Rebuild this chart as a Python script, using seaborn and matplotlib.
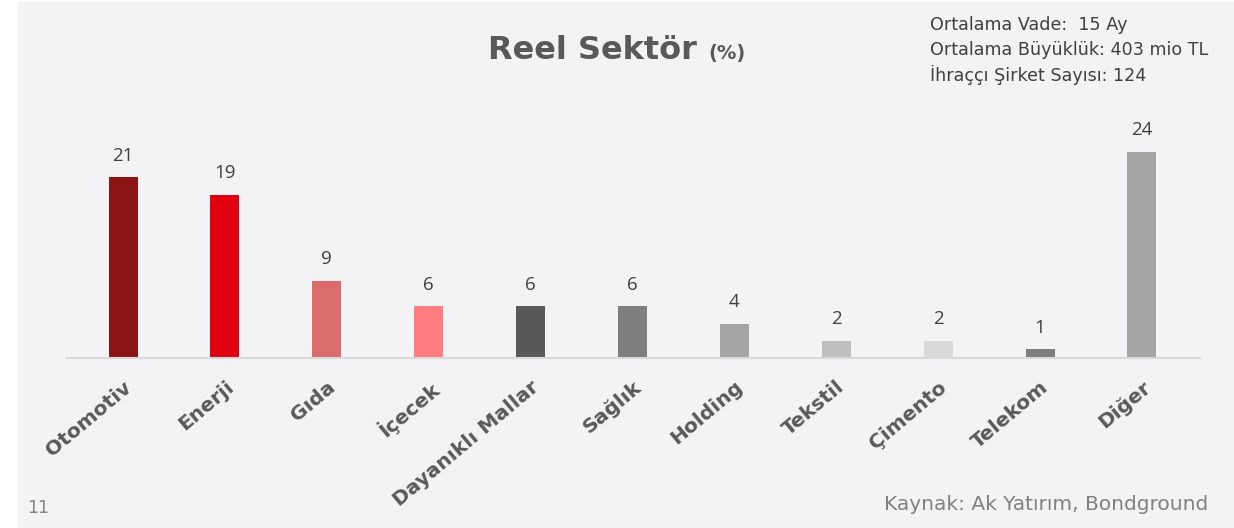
import matplotlib
matplotlib.use("Agg")
import matplotlib.pyplot as plt
import pandas as pd
import seaborn as sns

# ---------- data ----------
sectors = ["Otomotiv", "Enerji", "Gıda", "İçecek", "Dayanıklı Mallar", "Sağlık",
           "Holding", "Tekstil", "Çimento", "Telekom", "Diğer"]
shares = [21, 19, 9, 6, 6, 6, 4, 2, 2, 1, 24]
bar_colors = ["#8B1515", "#E0000F", "#DC6B6B", "#FF7C80", "#595959", "#7F7F7F",
              "#A5A5A5", "#BFBFBF", "#D9D9D9", "#7F7F7F", "#A5A5A5"]
info_lines = ["Ortalama Vade:  15 Ay", "Ortalama Büyüklük: 403 mio TL",
              "İhraççı Şirket Sayısı: 124"]
source_text = "Kaynak: Ak Yatırım, Bondground"
page_no = "11"

df = pd.DataFrame({"sector": sectors, "share": shares})

BG = "#F3F3F6"
TXT = "#595959"

sns.set_style("white")
plt.rcParams["font.family"] = ["DejaVu Sans"]

fig = plt.figure(figsize=(12.34, 5.28), dpi=100)
fig.patch.set_facecolor("white")
# gray slide panel
fig.add_artist(plt.Rectangle((18 / 1234, 0), 1 - 18 / 1234, 1 - 2 / 528,
                             transform=fig.transFigure, color=BG, zorder=0))

ax = fig.add_axes([67 / 1234, 170 / 528, 1133 / 1234, 228 / 528])
ax.set_facecolor("none")

sns.barplot(data=df, x="sector", y="share", hue="sector", palette=bar_colors,
            width=0.285, legend=False, ax=ax, saturation=1, linewidth=0)

ax.set_xlim(-0.55, len(sectors) - 1 + 0.57)
ax.set_ylim(0, 26.5)
ax.set_xlabel("")
ax.set_ylabel("")
ax.set_yticks([])

for s in ["top", "right", "left"]:
    ax.spines[s].set_visible(False)
ax.spines["bottom"].set_color("#D9D9D9")
ax.spines["bottom"].set_linewidth(1.5)

ax.tick_params(axis="x", length=0, pad=14)
ax.set_xticks(range(len(sectors)))
ax.set_xticklabels(sectors, rotation=40, ha="right", rotation_mode="anchor",
                   fontsize=14.5, fontweight="bold", color=TXT)

# value labels
for i, v in enumerate(shares):
    ax.annotate(f"{v}", (i, v), xytext=(0, 9), textcoords="offset points",
                ha="center", va="bottom", fontsize=13.5, color="#404040",
                family="Open Sans")

# title
fig.text(697 / 1234, 0.905, "Reel Sektör", ha="right", va="center",
         fontsize=23, fontweight="bold", color=TXT)
fig.text(708 / 1234, 0.898, "(%)", ha="left", va="center",
         fontsize=14, fontweight="bold", color=TXT)

# info box top-right
for k, line in enumerate(info_lines):
    fig.text(930 / 1234, 1 - (25 + k * 25) / 528, line, ha="left", va="center",
             fontsize=12.6, color="#404040")

fig.text(27 / 1234, 1 - 508 / 528, page_no, ha="left", va="center",
         fontsize=12.5, color="#858585")
fig.text(1208 / 1234, 1 - 505 / 528, source_text, ha="right", va="center",
         fontsize=14.5, color="#808080")

fig.savefig("out.png", dpi=100, facecolor=fig.get_facecolor())
